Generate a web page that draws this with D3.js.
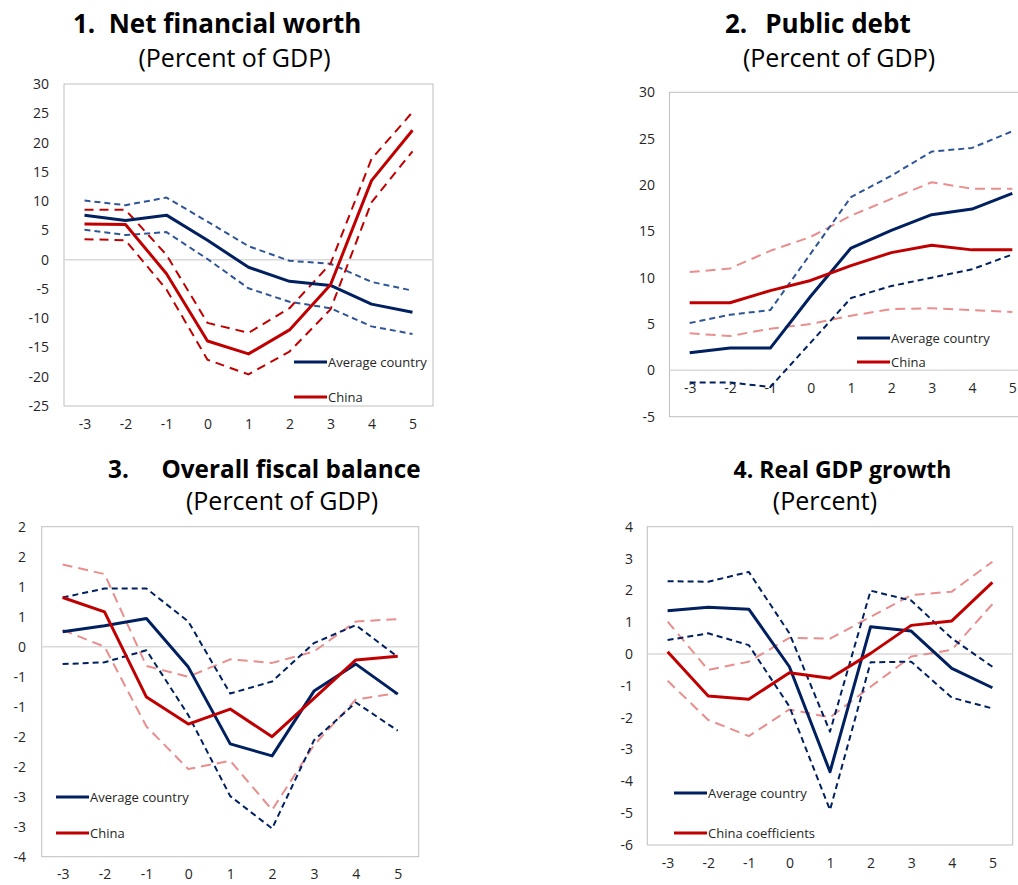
<!DOCTYPE html>
<html><head><meta charset="utf-8">
<script src="https://cdn.jsdelivr.net/npm/d3@7"></script>
<style>
html,body{margin:0;padding:0;background:#fff;}
svg{display:block;font-family:"Open Sans","Noto Sans",sans-serif;}
</style></head>
<body><svg id="chart" width="1018" height="885"></svg>
<script>
// ---------- DATA ----------
const periods = [-3,-2,-1,0,1,2,3,4,5];

// 1. Net financial worth
const nfwAvg     = [7.6, 6.7, 7.6, 3.3, -1.3, -3.7, -4.4, -7.6, -9.0];
const nfwAvgHi   = [10.1, 9.3, 10.6, 6.5, 2.3, -0.2, -0.7, -3.8, -5.3];
const nfwAvgLo   = [5.1, 4.2, 4.7, 0.1, -4.9, -7.2, -8.3, -11.4, -12.7];
const nfwChina   = [6.1, 6.0, -2.4, -13.9, -16.1, -12.0, -4.3, 13.5, 22.1];
const nfwChinaHi = [8.5, 8.5, 0.8, -10.8, -12.5, -8.3, -0.7, 17.2, 25.2];
const nfwChinaLo = [3.5, 3.3, -5.1, -17.1, -19.6, -15.7, -8.5, 9.8, 18.5];
const nfwTicks   = [30,25,20,15,10,5,0,-5,-10,-15,-20,-25];

// 2. Public debt
const debtAvg     = [1.9, 2.4, 2.4, 8.0, 13.2, 15.1, 16.8, 17.4, 19.1];
const debtAvgHi   = [5.1, 6.0, 6.5, 12.6, 18.7, 21.0, 23.6, 24.0, 25.8];
const debtAvgLo   = [-1.3, -1.3, -1.8, 3.0, 7.8, 9.1, 10.0, 10.9, 12.5];
const debtChina   = [7.3, 7.3, 8.6, 9.7, 11.3, 12.7, 13.5, 13.0, 13.0];
const debtChinaHi = [10.6, 11.0, 12.9, 14.4, 16.7, 18.5, 20.3, 19.6, 19.6];
const debtChinaLo = [4.0, 3.7, 4.5, 5.0, 5.9, 6.6, 6.7, 6.5, 6.3];
const debtTicks   = [30,25,20,15,10,5,0,-5];

// 3. Overall fiscal balance
const fbAvg     = [0.25, 0.35, 0.47, -0.34, -1.62, -1.82, -0.74, -0.29, -0.79];
const fbAvgHi   = [0.82, 0.97, 0.97, 0.42, -0.78, -0.58, 0.06, 0.36, -0.17];
const fbAvgLo   = [-0.29, -0.26, -0.06, -1.14, -2.49, -3.03, -1.56, -0.93, -1.40];
const fbChina   = [0.82, 0.58, -0.84, -1.29, -1.04, -1.50, -0.86, -0.22, -0.16];
const fbChinaHi = [1.37, 1.21, -0.32, -0.50, -0.21, -0.27, -0.08, 0.42, 0.46];
const fbChinaLo = [0.28, 0.00, -1.33, -2.04, -1.90, -2.72, -1.64, -0.88, -0.77];
const fbTicks      = [2,1.5,1,0.5,0,-0.5,-1,-1.5,-2,-2.5,-3,-3.5];
const fbTickLabels = ["2","2","1","1","0","-1","-1","-2","-2","-3","-3","-4"];

// 4. Real GDP growth
const gdpAvg     = [1.36, 1.47, 1.41, -0.40, -3.70, 0.86, 0.72, -0.45, -1.06];
const gdpAvgHi   = [2.29, 2.27, 2.58, 0.65, -2.44, 1.99, 1.68, 0.49, -0.40];
const gdpAvgLo   = [0.44, 0.65, 0.28, -1.65, -4.90, -0.26, -0.24, -1.37, -1.71];
const gdpChina   = [0.07, -1.32, -1.42, -0.59, -0.76, 0.02, 0.90, 1.04, 2.25];
const gdpChinaHi = [1.02, -0.50, -0.24, 0.51, 0.48, 1.17, 1.85, 1.96, 2.90];
const gdpChinaLo = [-0.84, -2.07, -2.58, -1.74, -1.99, -1.03, -0.08, 0.13, 1.57];
const gdpTicks   = [4,3,2,1,0,-1,-2,-3,-4,-5,-6];

const legendAvg = "Average country";
const legendChina = "China";
const legendChinaCoef = "China coefficients";

// ---------- STYLES ----------
const NAVY = "#002060", BLUE = "#2f5597", RED = "#c00000", PINK = "#e88e8e";

// ---------- LAYOUT ----------
const panels = [
  { num:"1.", nX:73, title:"Net financial worth", tX:235, tS:26, sub:"(Percent of GDP)", sX:234.5, tY:33, sY:67,
    box:[64,84,433,406], dom:[-25,30], ticks:nfwTicks, labels:null, xLabY:428, tickX:49,
    series:[
      {v:nfwAvgHi, c:BLUE, w:2, d:"6,4"},
      {v:nfwAvgLo, c:BLUE, w:2, d:"6,4"},
      {v:nfwChinaHi, c:RED, w:2, d:"9,6"},
      {v:nfwChinaLo, c:RED, w:2, d:"9,6"},
      {v:nfwAvg, c:NAVY, w:3},
      {v:nfwChina, c:RED, w:3}],
    legend:{x1:294,x2:327,y:[362,397],t:[legendAvg,legendChina]} },
  { num:"2.", nX:725, title:"Public debt", tX:838, tS:26, sub:"(Percent of GDP)", sX:839, tY:33, sY:67,
    box:[669.5,92.3,1032.5,416.7], dom:[-5,30], ticks:debtTicks, labels:null, xLabY:392, tickX:655,
    series:[
      {v:debtChinaHi, c:PINK, w:2, d:"10,6"},
      {v:debtChinaLo, c:PINK, w:2, d:"10,6"},
      {v:debtAvgHi, c:BLUE, w:2, d:"6,4"},
      {v:debtAvgLo, c:NAVY, w:2, d:"6,4"},
      {v:debtAvg, c:NAVY, w:3},
      {v:debtChina, c:RED, w:3}],
    legend:{x1:857,x2:890,y:[338,362],t:[legendAvg,legendChina]} },
  { num:"3.", nX:108, title:"Overall fiscal balance", tX:291, tS:24.3, sub:"(Percent of GDP)", sX:282, tY:478, sY:510,
    box:[41.7,526.7,418.7,856.7], dom:[-3.5,2], ticks:fbTicks, labels:fbTickLabels, xLabY:878, tickX:26,
    series:[
      {v:fbChinaHi, c:PINK, w:2, d:"10,6"},
      {v:fbChinaLo, c:PINK, w:2, d:"10,6"},
      {v:fbAvgHi, c:NAVY, w:2, d:"6,4"},
      {v:fbAvgLo, c:NAVY, w:2, d:"6,4"},
      {v:fbAvg, c:NAVY, w:3},
      {v:fbChina, c:RED, w:3}],
    legend:{x1:56,x2:89,y:[797,833],t:[legendAvg,legendChina]} },
  { num:null, nX:0, title:"4. Real GDP growth", tX:842.5, tS:23, sub:"(Percent)", sX:825, tY:478, sY:510,
    box:[647.3,526.7,1012.7,845], dom:[-6,4], ticks:gdpTicks, labels:null, xLabY:867, tickX:633,
    series:[
      {v:gdpChinaHi, c:PINK, w:2, d:"10,6"},
      {v:gdpChinaLo, c:PINK, w:2, d:"10,6"},
      {v:gdpAvgHi, c:NAVY, w:2, d:"6,4"},
      {v:gdpAvgLo, c:NAVY, w:2, d:"6,4"},
      {v:gdpAvg, c:NAVY, w:3},
      {v:gdpChina, c:RED, w:3}],
    legend:{x1:674,x2:707,y:[793,833],t:[legendAvg,legendChinaCoef]} }
];

const svg = d3.select("#chart");

panels.forEach(p => {
  const [l,t,r,b] = p.box;
  const x = d3.scalePoint().domain(periods).range([l,r]).padding(0.5);
  const y = d3.scaleLinear().domain(p.dom).range([b,t]);
  const g = svg.append("g");

  // titles
  if (p.num) {
    g.append("text").attr("x",p.nX).attr("y",p.tY).attr("font-size",p.tS)
      .attr("font-weight","bold").attr("fill","#000").text(p.num);
  }
  g.append("text").attr("x",p.tX).attr("y",p.tY).attr("text-anchor","middle")
    .attr("font-size",p.tS).attr("font-weight","bold").attr("fill","#000")
    .text(p.title);
  g.append("text").attr("x",p.sX).attr("y",p.sY).attr("text-anchor","middle")
    .attr("font-size",25).attr("fill","#000").text(p.sub);

  // plot border
  g.append("rect").attr("x",l).attr("y",t).attr("width",r-l).attr("height",b-t)
    .attr("fill","none").attr("stroke","#bfbfbf").attr("stroke-width",1);

  // zero line
  g.append("line").attr("x1",l).attr("x2",r).attr("y1",y(0)).attr("y2",y(0))
    .attr("stroke","#d9d9d9").attr("stroke-width",1.5);

  // y axis labels
  const ya = d3.axisLeft(y).tickValues(p.ticks).tickSize(0).tickPadding(0)
    .tickFormat((d,i) => p.labels ? p.labels[i] : String(d));
  const yg = g.append("g").attr("transform",`translate(${p.tickX},0)`).call(ya);
  yg.select(".domain").remove();
  yg.selectAll("text").attr("font-size",14).attr("fill","#262626")
    .attr("font-family","'Open Sans','Noto Sans',sans-serif");

  // x axis labels
  const xa = d3.axisBottom(x).tickSize(0).tickPadding(0).tickFormat(d => String(d));
  const xg = g.append("g").attr("transform",`translate(0,${p.xLabY - 9})`).call(xa);
  xg.select(".domain").remove();
  xg.selectAll("text").attr("font-size",14).attr("fill","#262626")
    .attr("font-family","'Open Sans','Noto Sans',sans-serif");

  // lines
  const line = d3.line().x((d,i) => x(periods[i])).y(d => y(d));
  p.series.forEach(s => {
    g.append("path").datum(s.v).attr("d",line).attr("fill","none")
      .attr("stroke",s.c).attr("stroke-width",s.w)
      .attr("stroke-dasharray",s.d || null).attr("stroke-linejoin","round");
  });

  // legend
  const lc = [NAVY, RED];
  p.legend.y.forEach((ly,i) => {
    g.append("line").attr("x1",p.legend.x1).attr("x2",p.legend.x2).attr("y1",ly).attr("y2",ly)
      .attr("stroke",lc[i]).attr("stroke-width",3);
    g.append("text").attr("x",p.legend.x2+1).attr("y",ly).attr("dy","0.35em")
      .attr("font-size",13).attr("fill","#262626").text(p.legend.t[i]);
  });
});
</script></body></html>
